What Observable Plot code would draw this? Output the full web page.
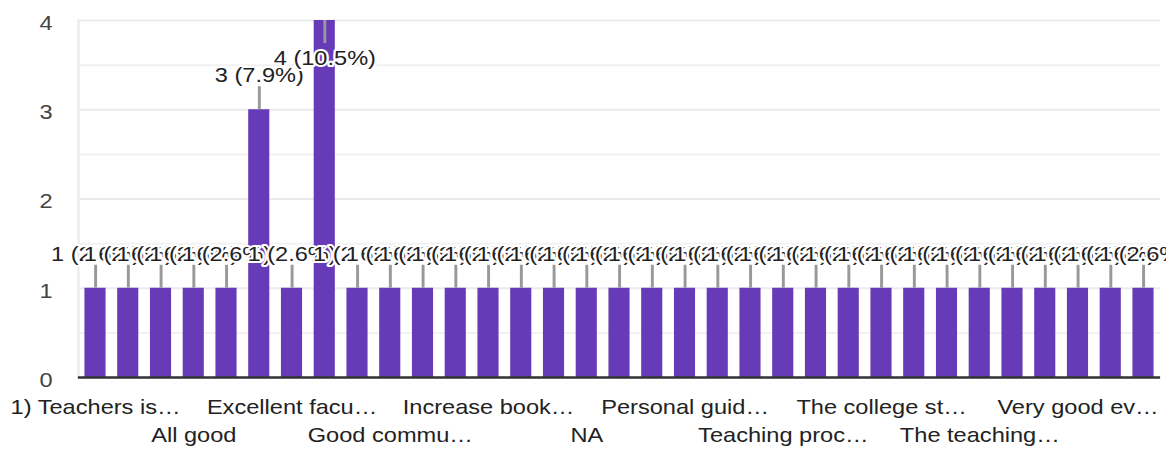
<!DOCTYPE html>
<html><head><meta charset="utf-8">
<script src="https://cdn.jsdelivr.net/npm/d3@7"></script>
<script src="https://cdn.jsdelivr.net/npm/@observablehq/plot@0.6"></script>
<style>body{margin:0;background:#fff;}</style>
</head><body><div id="chart"></div>
<script>
const categories = [
  "1) Teachers is…", "Academic activities are good", "All are good", "All good", "Best college",
  "Excellent", "Excellent facu…", "Good", "Good college", "Good commu…",
  "Good teaching", "Improve sports facilities", "Increase book…", "Infrastructure is good", "More practical classes",
  "NA", "Nice", "Nothing", "Personal guid…", "Satisfied",
  "Supportive staff", "Teaching proc…", "Teaching staff is good", "Thank you", "The college st…",
  "The faculty are helpful", "The overall experience is good", "The teaching…", "Very good", "Very good college",
  "Very good ev…", "Very nice", "Well organized"
];
const values = [
  1, 1, 1, 1, 1,
  3, 1, 4, 1, 1,
  1, 1, 1, 1, 1,
  1, 1, 1, 1, 1,
  1, 1, 1, 1, 1,
  1, 1, 1, 1, 1,
  1, 1, 1
];
const yTicks = [0, 1, 2, 3, 4];
const yMinorTicks = [0.5, 1.5, 2.5, 3.5];

const total = d3.sum(values);
const maxV = d3.max(values);
const data = categories.map((c, i) => ({
  category: c,
  value: values[i],
  label: `${values[i]} (${(values[i] / total * 100).toFixed(1)}%)`
}));
const up = data.filter(d => d.value < maxV);
const down = data.filter(d => d.value === maxV);
const row1 = categories.filter((_, i) => i % 6 === 0);
const row2 = categories.filter((_, i) => i % 6 === 3);

const W = 988, H = 452;
const font = "Arial, 'Liberation Sans', sans-serif";

const svg = Plot.plot({
  width: W,
  height: H,
  marginLeft: 66,
  marginRight: 5,
  marginTop: 20,
  marginBottom: 75,
  style: {fontFamily: font, fontSize: "20px", background: "white", color: "#222"},
  x: {type: "band", domain: categories, paddingInner: 0.355, paddingOuter: 0.2, round: false},
  y: {domain: [0, 4]},
  marks: [
    Plot.gridY({ticks: yMinorTicks, stroke: "#f2f2f2", strokeOpacity: 1, strokeWidth: 2}),
    Plot.gridY({ticks: yTicks, stroke: "#ebebeb", strokeOpacity: 1, strokeWidth: 2}),
    Plot.frame({anchor: "left", stroke: "#ebebeb", strokeWidth: 2}),
    Plot.axisY({ticks: yTicks, tickFormat: d3.format("d"), tickSize: 0, tickPadding: 22, fontSize: 20, color: "#444", label: null, dy: 3}),
    Plot.barY(data, {x: "category", y: "value", fill: "#673ab7"}),
    Plot.ruleY([0], {stroke: "#333", strokeWidth: 2.5}),
    Plot.ruleX(up, {x: "category", y1: "value", y2: "value", insetTop: -23, stroke: "#999", strokeWidth: 2.5}),
    Plot.ruleX(down, {x: "category", y1: "value", y2: "value", insetBottom: -23, stroke: "#999", strokeWidth: 2.5}),
    Plot.text(up, {x: "category", y: "value", text: "label", dy: -34, fontSize: 20, fill: "#222", stroke: "white", strokeWidth: 4, paintOrder: "stroke"}),
    Plot.text(down, {x: "category", y: "value", text: "label", dy: 38, fontSize: 20, fill: "#222", stroke: "white", strokeWidth: 4, paintOrder: "stroke"}),
    Plot.axisX({ticks: row1, tickSize: 0, tickPadding: 22, fontSize: 20, color: "#222", label: null}),
    Plot.axisX({ticks: row2, tickSize: 0, tickPadding: 50, fontSize: 20, color: "#222", label: null})
  ]
});
svg.setAttribute("width", 1166);
svg.setAttribute("height", H);
svg.setAttribute("preserveAspectRatio", "none");
svg.style.width = "1166px";
svg.style.height = H + "px";
svg.style.maxWidth = "none";
document.getElementById("chart").appendChild(svg);
</script>
</body></html>
